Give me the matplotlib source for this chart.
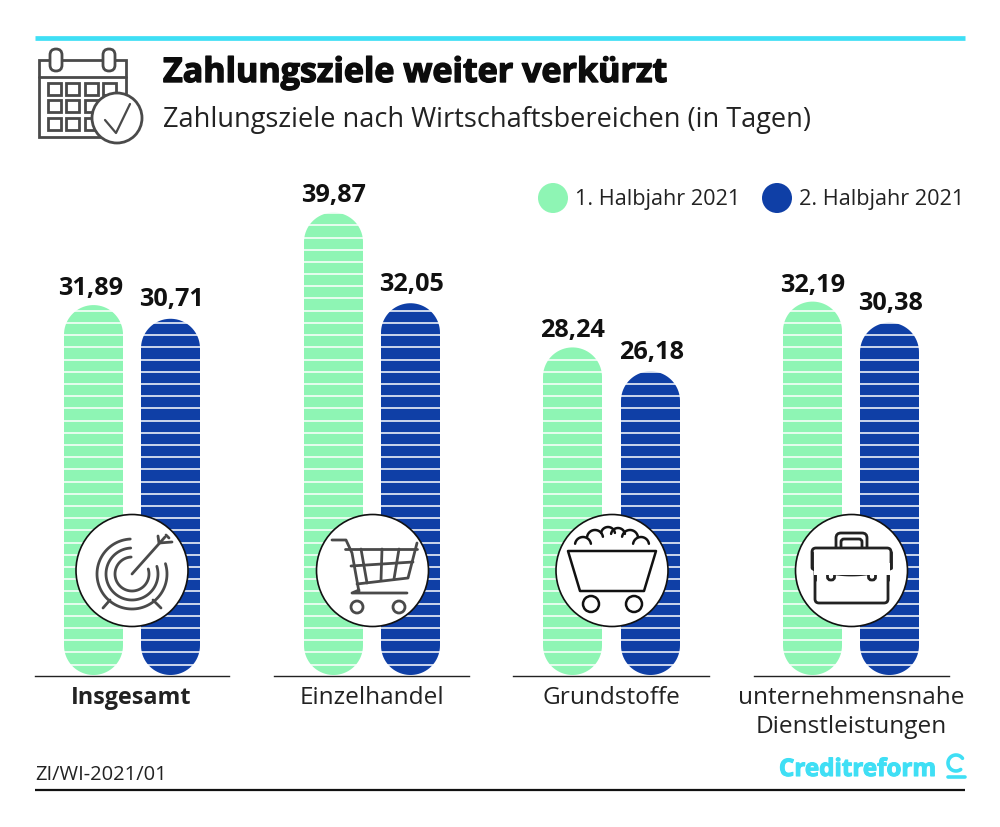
import numpy as np
import matplotlib
matplotlib.use('Agg')
import matplotlib.pyplot as plt
import matplotlib.patheffects as pe
from matplotlib.patches import Circle, Rectangle, FancyBboxPatch, Polygon

categories = ['Insgesamt', 'Einzelhandel', 'Grundstoffe', 'unternehmensnahe\nDienstleistungen']
h1_2021 = [31.89, 39.87, 28.24, 32.19]
h2_2021 = [30.71, 32.05, 26.18, 30.38]
labels_h1 = ['31,89', '39,87', '28,24', '32,19']
labels_h2 = ['30,71', '32,05', '26,18', '30,38']
series_names = ['1. Halbjahr 2021', '2. Halbjahr 2021']

GREEN = '#8ef5b4'
BLUE = '#0f3fa6'
CYAN = '#3fdff5'
GREY = '#4a4a4a'
BASE = 675
PX_PER_DAY = 11.6
BODY = 'Open Sans'

fig = plt.figure(figsize=(10, 8.27), dpi=100)
# page axis in pixels, for rules, icons and text
page = fig.add_axes([0, 0, 1, 1], zorder=3)
page.set_xlim(0, 1000)
page.set_ylim(827, 0)
page.axis('off')
page.patch.set_alpha(0)

# chart axis: x in pixels, y in days
chart = fig.add_axes([0, (827 - BASE) / 827, 1, BASE / 827], zorder=1)
chart.set_xlim(0, 1000)
chart.set_ylim(0, BASE / PX_PER_DAY)
chart.axis('off')


def stadium(x, w, v, color):
	r = w / 2
	ry = r / PX_PER_DAY
	t = np.linspace(0, np.pi, 40)
	top_x = x + r + r * np.cos(t)
	top_y = v - ry + ry * np.sin(t)
	bot_x = x + r - r * np.cos(t)
	bot_y = ry - ry * np.sin(t)
	pts = np.column_stack([np.r_[top_x, bot_x], np.r_[top_y, bot_y]])
	chart.add_patch(Polygon(pts, closed=True, fc=color, ec='none', zorder=1))
	# white stripes every 12.2 px from the baseline up
	ys = np.arange(10.5, v * PX_PER_DAY, 12.2) / PX_PER_DAY
	chart.hlines(ys, x - 1, x + w + 1, color='white', lw=1.1, zorder=2)


left_x = [64, 304, 543, 783]
right_x = [141, 381, 621, 860]
BAR_W = 59
rule_x = [(35, 229), (274, 469), (513, 709), (754, 949)]
circle_x = [132, 372.5, 612, 851.5]

for i in range(4):
	stadium(left_x[i], BAR_W, h1_2021[i], GREEN)
	stadium(right_x[i], BAR_W, h2_2021[i], BLUE)
	chart.text(left_x[i] + BAR_W / 2 - (2.5 if i == 0 else 0), h1_2021[i] + 0.35, labels_h1[i], ha='center', va='bottom',
		fontsize=18.2, fontweight='bold', family=BODY, color='#111111')
	chart.text(right_x[i] + BAR_W / 2 + 1, h2_2021[i] + 0.55, labels_h2[i], ha='center', va='bottom',
		fontsize=18.2, fontweight='bold', family=BODY, color='#111111')
	page.plot(rule_x[i], [BASE + 1, BASE + 1], color='#222222', lw=1)
	page.add_patch(Circle((circle_x[i], 570.5), 56, fc='white', ec='#111111', lw=1.2))
	page.text(circle_x[i] - 0.5, 686, categories[i], ha='center', va='top', fontsize=16.8 if i == 0 else 17.6, family=BODY,
		fontweight='bold' if i == 0 else 'normal', color='#222222', linespacing=1.3)

# top and bottom rules
page.plot([35, 965], [37.5, 37.5], color=CYAN, lw=3.4, solid_capstyle='butt')
page.plot([35, 965], [790, 790], color='#111111', lw=1.6, solid_capstyle='butt')

# header
page.text(163, 73, 'Zahlungsziele weiter verkürzt', fontsize=24.5, fontweight='bold', family=BODY, va='center', color='#0c0c0c',
	path_effects=[pe.withStroke(linewidth=1.0, foreground='#0c0c0c')])
page.text(163, 120, 'Zahlungsziele nach Wirtschaftsbereichen (in Tagen)', fontsize=19.5, family=BODY, va='center', color='#222222')
page.text(35, 775, 'ZI/WI-2021/01', fontsize=14.5, family=BODY, va='center', color='#222222')

# legend
page.add_patch(Circle((553, 198), 15, fc=GREEN, ec='none'))
page.add_patch(Circle((777, 198), 15, fc=BLUE, ec='none'))
page.text(575, 199, series_names[0], fontsize=15.6, family=BODY, va='center', color='#222222')
page.text(799, 199, series_names[1], fontsize=15.6, family=BODY, va='center', color='#222222')


def line(xs, ys, color=GREY, lw=2.0):
	page.plot(xs, ys, color=color, lw=lw, solid_capstyle='round', solid_joinstyle='round')


def box(x, y, w, h, color=GREY, lw=2.0, fc='white', rnd=0):
	if rnd:
		page.add_patch(FancyBboxPatch((x, y), w, h, boxstyle='round,pad=0,rounding_size=%s' % rnd, fc=fc, ec=color, lw=lw))
	else:
		page.add_patch(Rectangle((x, y), w, h, fc=fc, ec=color, lw=lw))


# calendar icon
box(39, 60, 87, 77)
line([39, 126], [77, 77])
box(50, 49, 12, 22, rnd=6)
box(103, 49, 12, 22, rnd=6)
for bx in [48, 66, 85, 103]:
	for by in [83, 100, 118]:
		box(bx, by, 13, 12)
page.add_patch(Circle((117, 118), 25, fc='white', ec=GREY, lw=2.0))
line([105, 116, 130], [120, 133, 104], lw=1.6)

# target icon
for r in [35, 26, 17]:
	t = np.linspace(-0.3, 1.5 * np.pi - 0.05, 80)
	line(132 + r * np.cos(t), 574 + r * np.sin(t))
line([132, 165], [574, 537])
line([158, 159, 172], [536, 543, 542])
line([166, 169], [535, 538])
line([103, 110], [608, 600])
line([161, 153], [608, 600])

# cart icon
line([332, 346, 352, 359], [540, 540, 553, 592])
line([345, 417], [549, 549])
line([417, 408, 357], [543, 578, 584])
line([351, 413], [566, 562])
line([361, 367], [549, 583])
line([382, 381], [549, 580])
line([399, 394], [549, 579])
line([359, 352, 407], [590, 593, 593])
for cx in [357, 399]:
	page.add_patch(Circle((cx, 607), 6, fc='white', ec=GREY, lw=2.0))

# coal cart icon
page.add_patch(Polygon([(568, 551), (656, 551), (644, 591), (580, 591)], closed=True, fc='white', ec='#111111', lw=1.8, joinstyle='round'))
for cx, cy, r in [(583, 545, 8), (595, 538, 8), (608, 534, 7), (618, 535, 7), (630, 538, 8), (641, 545, 8)]:
	t = np.linspace(np.pi * 1.05, np.pi * 1.95, 20)
	line(cx + r * np.cos(t), cy + r * np.sin(t), color='#111111', lw=1.8)
for cx in [591, 634]:
	page.add_patch(Circle((cx, 604), 8, fc='white', ec='#111111', lw=1.8))

# briefcase icon
DARK = '#222222'
box(836, 533, 31, 28, color=DARK, rnd=5)
box(841, 539, 21, 20, color=DARK, rnd=3)
box(815, 560, 73, 43, color=DARK, rnd=4)
box(812, 548, 79, 22, color=DARK, rnd=4)
page.add_patch(Rectangle((813.5, 563), 76, 12, fc='white', ec='none', zorder=3))
line([812, 812], [552, 568], color=DARK)
line([891, 891], [552, 568], color=DARK)
line([815, 815], [570, 580], color=DARK)
line([888, 888], [570, 580], color=DARK)
t = np.linspace(812, 891, 40)
line(t, 575 - 7 * ((t - 851.5) / 39.5) ** 2, color=DARK)
for cx in [831, 872]:
	box(cx - 3.5, 568, 7, 12, color=DARK, rnd=3)

# logo
page.text(779, 770, 'Creditreform', fontsize=17.4, fontweight='bold', family=BODY, color=CYAN, va='center',
	path_effects=[pe.withStroke(linewidth=0.8, foreground=CYAN)])
t = np.linspace(0.2 * np.pi, 1.7 * np.pi, 30)
line(956 + 8 * np.cos(t), 763 - 8 * np.sin(t), color=CYAN, lw=2.6)
line([948, 965], [777, 777], color=CYAN, lw=2.6)

fig.savefig('out.png', dpi=100, facecolor='white')
